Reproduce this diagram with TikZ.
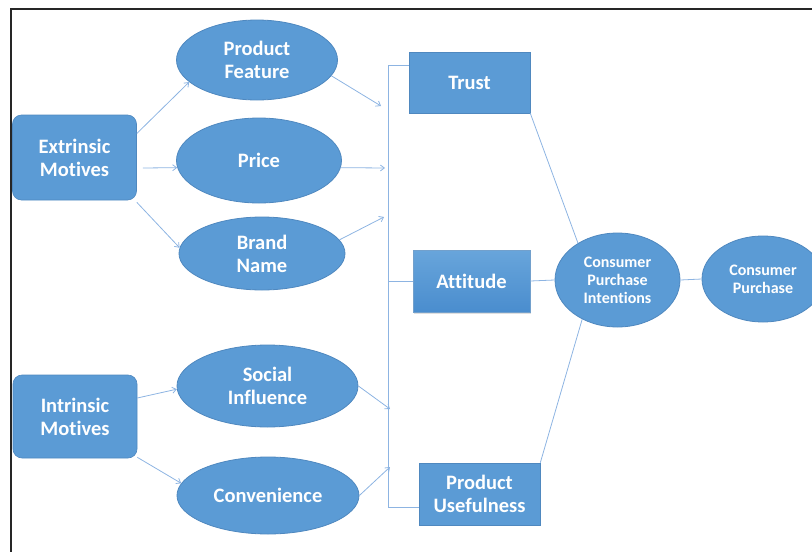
\documentclass[tikz,border=0pt]{standalone}
\usepackage{fontspec}
\setmainfont[Ligatures=NoCommon]{Carlito}
\usetikzlibrary{shapes.geometric,arrows.meta,shadows}
\definecolor{fillblue}{HTML}{5B9BD5}
\definecolor{edgeblue}{HTML}{4F88BF}
\definecolor{linkblue}{HTML}{8DB4E2}
\definecolor{gradtop}{HTML}{68A5DB}
\definecolor{gradbot}{HTML}{4A8DCE}
\begin{document}
\begin{tikzpicture}[x=1pt,y=-1pt,
  lbl/.style={text=white,font=\fontsize{20.5}{23}\selectfont\bfseries,align=center,inner sep=0pt},
  smalllbl/.style={text=white,font=\fontsize{16}{18}\selectfont\bfseries,align=center,inner sep=0pt},
  motive/.style={lbl,draw=edgeblue,fill=fillblue,rounded corners=9pt,line width=0.6pt},
  factor/.style={lbl,draw=edgeblue,fill=fillblue,ellipse,line width=0.8pt},
  outbox/.style={lbl,draw=edgeblue,fill=fillblue,line width=0.6pt},
  link/.style={draw=linkblue,line width=0.8pt},
  arr/.style={link,-{Straight Barb[length=4pt,width=6pt]}}
]
\useasboundingbox (0,0) rectangle (812,552);
\clip (0,0) rectangle (812,552);
% frame
\draw[line width=2pt,black!85] (11,552) -- (11,9) -- (812,9);

% left column
\node[motive,minimum width=124pt,minimum height=85pt] (ext) at (74.5,157.5) {Extrinsic\\Motives};
\node[motive,minimum width=124pt,minimum height=83pt] (int) at (75,416.5) {Intrinsic\\Motives};

% ellipses
\node[factor,minimum width=161pt,minimum height=80pt] (pf) at (257,60) {Product\\Feature};
\node[factor,minimum width=165pt,minimum height=85pt] (price) at (259,160.5) {Price};
\node[factor,minimum width=166pt,minimum height=73pt] (brand) at (262,253.5) {Brand\\Name};
\node[factor,minimum width=181pt,minimum height=82pt] (si) at (267.5,386) {Social\\Influence};
\node[factor,minimum width=182pt,minimum height=77pt] (conv) at (268,495.5) {Convenience};

% boxes in the middle
\node[outbox,minimum width=121pt,minimum height=61pt] (trust) at (469.5,82.5) {Trust};
\node[lbl,draw=edgeblue!80,top color=gradtop,bottom color=gradbot,minimum width=117pt,minimum height=62pt,line width=0.5pt,
  drop shadow={opacity=0.25,shadow xshift=1pt,shadow yshift=-2pt}] (att) at (471.5,281) {Attitude};
\node[outbox,minimum width=121pt,minimum height=62pt] (pu) at (479.5,494) {Product\\Usefulness};

% right ellipses
\node[factor,smalllbl,minimum width=125pt,minimum height=94pt] (cpi) at (617.5,280) {Consumer\\Purchase\\Intentions};
\node[factor,smalllbl,minimum width=122pt,minimum height=86pt] (cp) at (763,279) {Consumer\\Purchase};

% collector line
\coordinate (vtop) at (388,65);
\coordinate (vbot) at (388,507);
\coordinate (vmid) at (388,281);
\coordinate (a1) at (381,106);
\coordinate (a2) at (385,168);
\coordinate (a3) at (384,217);
\coordinate (a4) at (390,409);
\coordinate (a5) at (390,467);
\draw[link] (vtop) -- (vbot);
\draw[link] (vtop) -- (vtop -| trust.west);
\draw[link] (vmid) -- (att.west);
\draw[link] (vbot) -- (vbot -| pu.west);

% arrows from motives
\draw[arr] ([yshift=24pt]ext.east) -- (pf.198);
\draw[arr] ([xshift=6pt,yshift=-10.5pt]ext.east) -- (price.185);
\draw[arr] ([yshift=-2pt]ext.south east) -- (brand.176);
\draw[arr] ([yshift=18.5pt]int.east) -- (si.182);
\draw[arr] ([yshift=1pt]int.south east) -- (conv.172);

% arrows to collector
\draw[arr] (pf.-12) -- (a1);
\draw[arr] (price.-5) -- (a2);
\draw[arr] (brand.10) -- (a3);
\draw[arr] (si.east) -- (a4);
\draw[arr] (conv.east) -- (a5);

% right side links
\draw[link] (trust.south east) -- (cpi.137);
\draw[link] (att.east) -- (cpi.west);
\draw[link] (pu.north east) -- (cpi.228);
\draw[link] (cpi.east) -- (cp.west);
\end{tikzpicture}
\end{document}
